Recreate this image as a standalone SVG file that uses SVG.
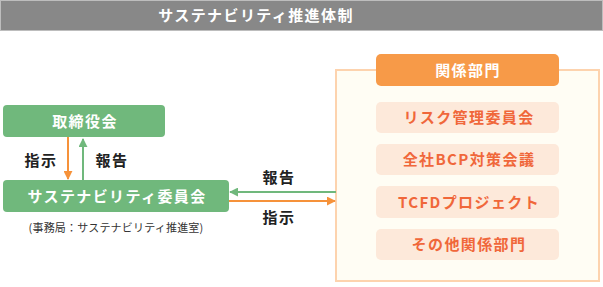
<svg xmlns="http://www.w3.org/2000/svg" width="603" height="287" viewBox="0 0 603 287">
<defs>
<style>
text{font-family:"Noto Sans CJK JP","Noto Sans",sans-serif;font-weight:bold;text-anchor:middle}
.t{font-size:15px;letter-spacing:1.4px;fill:#fff}
.lbl{font-size:15px;letter-spacing:1.4px;fill:#222}
.item{fill:#fde9da}
.it{font-size:15px;letter-spacing:1.4px;fill:#f0673a}
.g{fill:#70b87c}
.ga{stroke:#70b87c;stroke-width:2;fill:none}
.oa{stroke:#f6923a;stroke-width:2;fill:none}
</style>
<marker id="ag" viewBox="0 0 10 10" refX="9" refY="5" markerWidth="4.5" markerHeight="4.5" orient="auto" markerUnits="strokeWidth"><path d="M0,0L10,5L0,10z" fill="#70b87c"/></marker>
<marker id="ao" viewBox="0 0 10 10" refX="9" refY="5" markerWidth="4.5" markerHeight="4.5" orient="auto" markerUnits="strokeWidth"><path d="M0,0L10,5L0,10z" fill="#f6923a"/></marker>
</defs>
<rect width="603" height="287" fill="#fff"/>
<g id="header">
<rect x="0.5" y="0.5" width="602" height="30" fill="#888" stroke="#bdbdbd"/>
<text class="t" x="256" y="21">サステナビリティ推進体制</text>
</g>
<g id="board">
<rect class="g" x="3" y="105" width="162" height="32" rx="4"/>
<text class="t" x="85" y="126.5">取締役会</text>
</g>
<g id="committee">
<rect class="g" x="3" y="180" width="226" height="32" rx="4"/>
<text class="t" x="117" y="201.5">サステナビリティ委員会</text>
<text x="116" y="232" style="font-size:11px;font-weight:normal;fill:#333;letter-spacing:0.2px">(事務局：サステナビリティ推進室)</text>
</g>
<g id="departments">
<rect x="336" y="70" width="263" height="211" fill="#fffdf4" stroke="#fdd3ae" stroke-width="2"/>
<rect x="376" y="54" width="183" height="32" rx="5" fill="#f79a48"/>
<text class="t" x="468" y="75.5">関係部門</text>
</g>
<g id="risk">
<rect class="item" x="376" y="102" width="183" height="31" rx="5"/>
<text class="it" x="469" y="123">リスク管理委員会</text>
</g>
<g id="bcp">
<rect class="item" x="376" y="144" width="183" height="31" rx="5"/>
<text class="it" x="469" y="165">全社BCP対策会議</text>
</g>
<g id="tcfd">
<rect class="item" x="376" y="186" width="183" height="32" rx="5"/>
<text class="it" x="469" y="207.5">TCFDプロジェクト</text>
</g>
<g id="other">
<rect class="item" x="376" y="229" width="183" height="31" rx="5"/>
<text class="it" x="469" y="250">その他関係部門</text>
</g>
<g id="connectors">
<line class="oa" x1="68" y1="137" x2="68" y2="179" marker-end="url(#ao)"/>
<line class="ga" x1="83" y1="180" x2="83" y2="139" marker-end="url(#ag)"/>
<text class="lbl" x="41" y="165.5">指示</text>
<text class="lbl" x="112" y="165.5">報告</text>
<line class="ga" x1="336" y1="192" x2="230" y2="192" marker-end="url(#ag)"/>
<line class="oa" x1="229" y1="201" x2="335" y2="201" marker-end="url(#ao)"/>
<text class="lbl" x="279" y="182.5">報告</text>
<text class="lbl" x="279" y="222.5">指示</text>
</g>
</svg>
